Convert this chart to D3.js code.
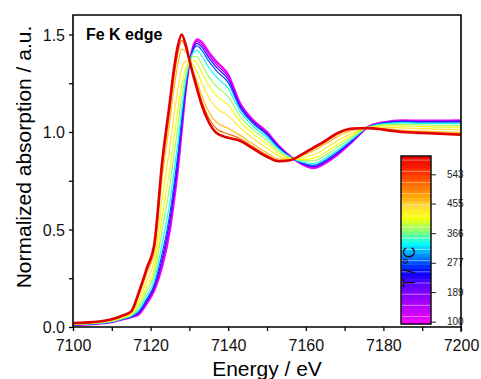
<!DOCTYPE html>
<html>
<head>
<meta charset="utf-8">
<script src="https://cdn.jsdelivr.net/npm/d3@7/dist/d3.min.js"></script>
<style>
  body { margin: 0; background: #fff; }
  svg { display: block; font-family: "Liberation Sans", Arial, sans-serif; }
</style>
</head>
<body>
<svg id="chart" width="481" height="379"></svg>
<script>
// energy grid (eV) shared by all spectra
const energy = [7100, 7105, 7110, 7113, 7115, 7117, 7119, 7121, 7123, 7125, 7126, 7127, 7128, 7129,
  7130, 7131, 7132, 7133, 7135, 7137, 7140, 7143, 7146, 7150, 7153, 7156, 7159, 7162, 7165, 7168,
  7172, 7176, 7180, 7185, 7190, 7200];

// temperature of each spectrum (°C)
const temps = [100, 160, 220, 280, 340, 380, 410, 435, 465, 515, 600];

// normalized absorption, one array per temperature
const mu100 = [0.010, 0.015, 0.025, 0.040, 0.050, 0.065, 0.120, 0.190, 0.310, 0.500, 0.640, 0.800, 1.000, 1.200,
  1.350, 1.440, 1.475, 1.465, 1.410, 1.360, 1.295, 1.150, 1.070, 1.000, 0.930, 0.875, 0.835, 0.815, 0.840, 0.880,
  0.950, 1.025, 1.050, 1.060, 1.058, 1.060];
const mu160 = [0.010, 0.015, 0.026, 0.041, 0.051, 0.070, 0.127, 0.200, 0.332, 0.526, 0.667, 0.826, 1.020, 1.210,
  1.351, 1.434, 1.465, 1.452, 1.396, 1.345, 1.282, 1.142, 1.064, 0.995, 0.927, 0.874, 0.837, 0.819, 0.845, 0.885,
  0.953, 1.025, 1.048, 1.058, 1.055, 1.057];
const mu220 = [0.011, 0.016, 0.026, 0.042, 0.052, 0.074, 0.134, 0.209, 0.353, 0.553, 0.694, 0.851, 1.040, 1.220,
  1.352, 1.428, 1.455, 1.440, 1.381, 1.331, 1.269, 1.134, 1.058, 0.990, 0.924, 0.873, 0.839, 0.823, 0.849, 0.889,
  0.955, 1.025, 1.047, 1.055, 1.053, 1.054];
const mu280 = [0.011, 0.016, 0.027, 0.043, 0.054, 0.080, 0.143, 0.221, 0.380, 0.586, 0.728, 0.883, 1.065, 1.233,
  1.353, 1.421, 1.442, 1.424, 1.363, 1.313, 1.253, 1.125, 1.051, 0.984, 0.920, 0.872, 0.842, 0.829, 0.855, 0.895,
  0.959, 1.024, 1.045, 1.052, 1.050, 1.050];
const mu340 = [0.012, 0.017, 0.028, 0.044, 0.057, 0.090, 0.160, 0.243, 0.429, 0.645, 0.790, 0.941, 1.110, 1.255,
  1.354, 1.407, 1.419, 1.396, 1.331, 1.280, 1.224, 1.107, 1.037, 0.972, 0.912, 0.871, 0.846, 0.838, 0.865, 0.905,
  0.965, 1.024, 1.042, 1.047, 1.044, 1.044];
const mu380 = [0.014, 0.019, 0.030, 0.047, 0.061, 0.105, 0.183, 0.274, 0.499, 0.731, 0.878, 1.024, 1.175, 1.288,
  1.357, 1.388, 1.386, 1.355, 1.284, 1.232, 1.181, 1.082, 1.018, 0.956, 0.902, 0.868, 0.853, 0.852, 0.880, 0.920,
  0.974, 1.023, 1.037, 1.039, 1.036, 1.034];
const mu410 = [0.015, 0.020, 0.032, 0.050, 0.064, 0.120, 0.206, 0.305, 0.569, 0.817, 0.966, 1.107, 1.240, 1.320,
  1.360, 1.368, 1.353, 1.314, 1.237, 1.185, 1.139, 1.056, 0.998, 0.939, 0.892, 0.865, 0.859, 0.865, 0.895, 0.934,
  0.983, 1.023, 1.032, 1.031, 1.028, 1.025];
const mu435 = [0.017, 0.022, 0.035, 0.053, 0.070, 0.140, 0.237, 0.346, 0.661, 0.929, 1.082, 1.216, 1.325, 1.363,
  1.363, 1.343, 1.309, 1.260, 1.176, 1.123, 1.084, 1.023, 0.973, 0.917, 0.878, 0.862, 0.868, 0.883, 0.915, 0.954,
  0.994, 1.022, 1.025, 1.021, 1.017, 1.012];
const mu465 = [0.019, 0.024, 0.038, 0.057, 0.076, 0.163, 0.273, 0.394, 0.769, 1.061, 1.218, 1.344, 1.425, 1.413,
  1.367, 1.313, 1.258, 1.197, 1.104, 1.050, 1.019, 0.984, 0.943, 0.892, 0.862, 0.858, 0.878, 0.904, 0.938, 0.976,
  1.008, 1.021, 1.018, 1.009, 1.004, 0.997];
const mu515 = [0.019, 0.024, 0.039, 0.059, 0.078, 0.173, 0.289, 0.416, 0.818, 1.120, 1.279, 1.402, 1.470, 1.435,
  1.369, 1.299, 1.235, 1.169, 1.072, 1.017, 0.990, 0.967, 0.929, 0.881, 0.855, 0.856, 0.882, 0.914, 0.948, 0.986,
  1.014, 1.020, 1.014, 1.004, 0.999, 0.990];
const mu600 = [0.020, 0.025, 0.040, 0.060, 0.080, 0.180, 0.300, 0.430, 0.850, 1.160, 1.320, 1.440, 1.500, 1.450,
  1.370, 1.290, 1.220, 1.150, 1.050, 0.995, 0.970, 0.955, 0.920, 0.873, 0.850, 0.855, 0.885, 0.920, 0.955, 0.993,
  1.018, 1.020, 1.012, 1.000, 0.995, 0.986];

const spectra = [mu100, mu160, mu220, mu280, mu340, mu380, mu410, mu435, mu465, mu515, mu600];

// axis ticks
const xTicks = [7100, 7110, 7120, 7130, 7140, 7150, 7160, 7170, 7180, 7190, 7200];
const yTicks = [0, 0.25, 0.5, 0.75, 1.0, 1.25, 1.5];
const cbTicks = [100, 189, 277, 366, 455, 543];

const svg = d3.select("#chart");
const margin = { top: 15, right: 20, bottom: 52, left: 73 };
const W = 481, H = 379;
const plotW = W - margin.left - margin.right;   // 388
const plotH = H - margin.top - margin.bottom;    // 312

const x = d3.scaleLinear().domain([7100, 7200]).range([0, plotW]);
const y = d3.scaleLinear().domain([0, 1.6]).range([plotH, 0]);

// rainbow temperature scale
const color = d3.scaleLinear()
  .domain([93, 150, 210, 250, 300, 335, 370, 415, 445, 480, 520, 560, 600])
  .range(["#ff00ff", "#b000ff", "#6000ff", "#0000ff", "#0090ff", "#00ffff", "#80ff80",
          "#ffff00", "#ffe040", "#ffa000", "#ff6000", "#ff2000", "#e00000"])
  .clamp(true);

const g = svg.append("g").attr("transform", `translate(${margin.left},${margin.top})`);

// spectra
const line = d3.line()
  .x((d, i) => x(energy[i]))
  .y(d => y(d))
  .curve(d3.curveMonotoneX);

spectra.forEach((s, k) => {
  const last = k === spectra.length - 1;
  g.append("path")
    .datum(s)
    .attr("fill", "none")
    .attr("stroke", color(temps[k]))
    .attr("stroke-width", last ? 2.6 : (k === 0 ? 2.2 : 1.2))
    .attr("stroke-linejoin", "round")
    .attr("d", line);
});

// axes
const xAxis = g.append("g")
  .attr("transform", `translate(0,${plotH})`)
  .call(d3.axisBottom(x).tickValues(xTicks).tickSize(4).tickSizeOuter(0)
    .tickFormat(d => (d % 20 === 0 ? d : "")));
const yAxis = g.append("g")
  .call(d3.axisLeft(y).tickValues(yTicks).tickSize(4).tickSizeOuter(0)
    .tickFormat(d => (Math.round(d * 100) % 50 === 0 ? d3.format(".1f")(d) : "")));

[xAxis, yAxis].forEach(a => {
  a.select(".domain").remove();
  a.selectAll(".tick line").attr("stroke", "#000").attr("stroke-width", 1.3);
  a.selectAll(".tick text").attr("fill", "#111").style("font-size", "16px");
});
xAxis.selectAll(".tick text").attr("dy", "1.05em");
yAxis.selectAll(".tick text").attr("dx", "-1px").attr("dy", "0.36em");

// colour bar
const cb = { x: 401 - margin.left, w: 30, top: 156 - margin.top, bottom: 324 - margin.top };
const cbScale = d3.scaleLinear().domain([93, 598]).range([cb.bottom, cb.top]);
const stripes = d3.range(93, 598, 11.2);
const cbG = g.append("g");
cbG.selectAll("rect.stripe")
  .data(stripes)
  .enter().append("rect")
  .attr("class", "stripe")
  .attr("x", cb.x)
  .attr("width", cb.w)
  .attr("y", d => cbScale(Math.min(d + 11.2, 598)))
  .attr("height", d => cbScale(d) - cbScale(Math.min(d + 11.2, 598)) + 0.5)
  .attr("fill", d => color(d + 5.6));
cbG.selectAll("line.sep")
  .data(stripes.filter((d, i) => i % 3 === 2))
  .enter().append("line")
  .attr("class", "sep")
  .attr("x1", cb.x).attr("x2", cb.x + cb.w)
  .attr("y1", d => cbScale(d)).attr("y2", d => cbScale(d))
  .attr("stroke", "#fff").attr("stroke-opacity", 0.45).attr("stroke-width", 1);
cbG.append("rect")
  .attr("x", cb.x).attr("y", cb.top)
  .attr("width", cb.w).attr("height", cb.bottom - cb.top)
  .attr("fill", "none").attr("stroke", "#111").attr("stroke-width", 1.5);
const cbAxis = cbG.append("g")
  .attr("transform", `translate(${cb.x + cb.w},0)`)
  .call(d3.axisRight(cbScale).tickValues(cbTicks).tickSize(5).tickSizeOuter(0));
cbAxis.select(".domain").remove();
cbAxis.selectAll(".tick line").attr("stroke", "#222");
cbAxis.selectAll(".tick text").attr("x", 16).attr("fill", "#222").style("font-size", "10px");
cbG.append("text")
  .attr("transform", `translate(${cb.x + 14},${267 - margin.top}) rotate(-90)`)
  .attr("text-anchor", "middle")
  .style("font-size", "16px")
  .attr("fill", "#111")
  .text("T / °C");

// frame
g.append("path")
  .attr("d", `M0,0V${plotH}H${plotW}V0Z`)
  .attr("fill", "none").attr("stroke", "#000").attr("stroke-width", 1.6);
g.append("line")
  .attr("x1", plotW).attr("x2", plotW).attr("y1", plotH).attr("y2", plotH + 5)
  .attr("stroke", "#000").attr("stroke-width", 1.3);

// labels
g.append("text")
  .attr("x", 13).attr("y", 24.5)
  .style("font-size", "16px").style("font-weight", "bold")
  .text("Fe K edge");

svg.append("text")
  .attr("x", margin.left + plotW / 2).attr("y", 376)
  .attr("text-anchor", "middle")
  .style("font-size", "21px")
  .text("Energy / eV");

svg.append("text")
  .attr("transform", "translate(31,157) rotate(-90)")
  .attr("text-anchor", "middle")
  .style("font-size", "21px")
  .text("Normalized absorption / a.u.");
</script>
</body>
</html>
